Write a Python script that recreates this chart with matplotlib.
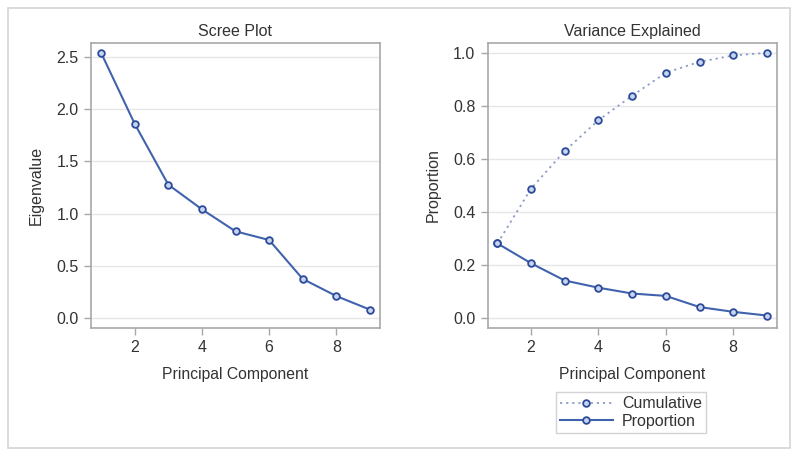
import matplotlib
matplotlib.use('Agg')
import matplotlib.pyplot as plt
from matplotlib.patches import Rectangle

plt.rcParams['font.family'] = ['Liberation Sans', 'DejaVu Sans']

# data
components = [1, 2, 3, 4, 5, 6, 7, 8, 9]
eigenvalues = [2.54, 1.86, 1.277, 1.041, 0.83, 0.747, 0.374, 0.21, 0.08]
proportion = [0.281, 0.206, 0.141, 0.114, 0.092, 0.083, 0.041, 0.023, 0.009]
cumulative = [0.281, 0.488, 0.630, 0.746, 0.838, 0.925, 0.966, 0.990, 1.0]

scree_yticks = [0.0, 0.5, 1.0, 1.5, 2.0, 2.5]
var_yticks = [0.0, 0.2, 0.4, 0.6, 0.8, 1.0]
xticks = [2, 4, 6, 8]

LINE = '#4163ad'
EDGE = '#2c4a9a'
FACE = '#c8d4ee'
SPINE = '#a8a8a8'
GRID = '#e6e6e6'
TEXT = '#333333'

W, H = 800, 459
fig = plt.figure(figsize=(W / 100, H / 100), dpi=100)
fig.patch.set_facecolor('white')

# outer frame
fig.patches.append(Rectangle((8 / W, 1 - 448 / H), 782 / W, 440 / H,
                             transform=fig.transFigure, fill=False,
                             edgecolor='#d4d4d4', linewidth=1.2))


def style_axes(ax):
    for s in ax.spines.values():
        s.set_color(SPINE)
        s.set_linewidth(1.2)
    ax.tick_params(axis='both', colors=SPINE, labelcolor=TEXT, labelsize=11.5,
                   length=5, width=1, direction='out', pad=4)
    ax.yaxis.grid(True, color=GRID, linewidth=1)
    ax.set_axisbelow(True)
    ax.set_xticks(xticks)


# left: scree plot
ax1 = fig.add_axes([91 / W, 1 - 328 / H, 289 / W, 285 / H])
ax1.plot(components, eigenvalues, color=LINE, linewidth=1.5, marker='o',
         markersize=4.8, markerfacecolor=FACE, markeredgecolor=EDGE,
         markeredgewidth=1.3)
ax1.set_xlim(0.70, 9.30)
ax1.set_ylim(-0.096, 2.634)
ax1.set_yticks(scree_yticks)
ax1.set_yticklabels(['%.1f' % v for v in scree_yticks])
style_axes(ax1)
ax1.set_title('Scree Plot', fontsize=11.5, color=TEXT, pad=5)
ax1.set_xlabel('Principal Component', fontsize=11.3, color=TEXT, labelpad=8)
ax1.set_ylabel('Eigenvalue', fontsize=11.5, color=TEXT, labelpad=9)

# right: variance explained
ax2 = fig.add_axes([488 / W, 1 - 328 / H, 289 / W, 285 / H])
ax2.plot(components, cumulative, color='#8c9cc8', linewidth=1.3,
         linestyle=(0, (1.2, 2.2)), marker='o', markersize=4.8,
         markerfacecolor=FACE, markeredgecolor=EDGE, markeredgewidth=1.3,
         label='Cumulative')
ax2.plot(components, proportion, color=LINE, linewidth=1.5, marker='o',
         markersize=4.8, markerfacecolor=FACE, markeredgecolor=EDGE,
         markeredgewidth=1.3, label='Proportion')
ax2.set_xlim(0.72, 9.30)
ax2.set_ylim(-0.038, 1.037)
ax2.set_yticks(var_yticks)
ax2.set_yticklabels(['%.1f' % v for v in var_yticks])
style_axes(ax2)
ax2.set_title('Variance Explained', fontsize=11.5, color=TEXT, pad=5)
ax2.set_xlabel('Principal Component', fontsize=11.3, color=TEXT, labelpad=8)
ax2.set_ylabel('Proportion', fontsize=11.5, color=TEXT, labelpad=9)

leg = ax2.legend(loc='upper center', bbox_to_anchor=(0.495, -0.226),
                 borderaxespad=0, fontsize=11.5, frameon=True, fancybox=False,
                 handlelength=3.3, handletextpad=0.6, borderpad=0.25,
                 labelspacing=0.15)
leg.get_frame().set_edgecolor('#c8c8c8')
leg.get_frame().set_linewidth(1)
for t in leg.get_texts():
    t.set_color(TEXT)

fig.savefig('out.png', dpi=100)
